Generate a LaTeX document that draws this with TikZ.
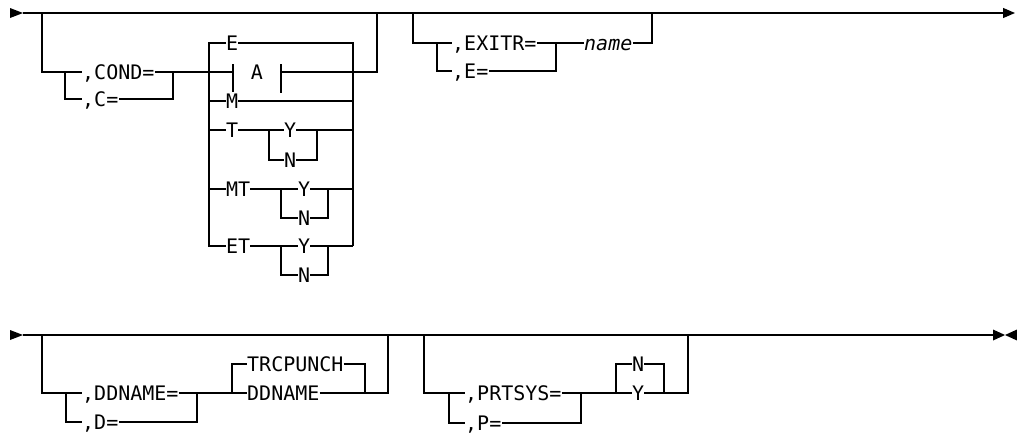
\documentclass[tikz,border=0pt]{standalone}
\usepackage{fontspec}
\setmonofont{DejaVu Sans Mono}
\usepackage{tikz}
\usetikzlibrary{arrows.meta}
\newcommand{\rrfont}{\ttfamily\fontsize{20}{24}\selectfont}

\begin{document}
\begin{tikzpicture}[
    x=1pt,y=-1pt,
    kw/.style={font=\rrfont,anchor=west,inner sep=0pt,text height=14.5pt,text depth=0pt},
    var/.style={kw,font=\rrfont\itshape},
    rail/.style={line width=1.2pt},
    endtip/.style={-{Triangle[length=12pt,width=10pt]}},
  ]
  \useasboundingbox (0,0) rectangle (1017,434);
  % ---------------- first line ----------------
  \coordinate (in1) at (23,13);
  \coordinate (out1) at (1015,13);
  \fill (10,8) -- (in1) -- (10,18) -- cycle;
  \draw[rail,endtip] (in1) -- (out1);
  % optional COND group
  \coordinate (o1L) at (42,13);
  \coordinate (o1R) at (377,13);
  \coordinate (o1Rb) at (377,72);
  \coordinate (f1) at (65,72);
  \coordinate (j1) at (173,72);
  \node[kw] (cond) at (82,72) {,COND=};
  \node[kw] (cshort) at (82,99) {,C=};
  \draw[rail] (o1L) |- (cond.west);
  \draw[rail] (f1) |- (cshort.west);
  \draw[rail] (cond.east) -- (j1) |- (cshort.east);
  % big choice of values
  \coordinate (cLt) at (209,43);
  \coordinate (cRt) at (353,43);
  \node[kw] (nE) at (226,43) {E};
  \node (nA) at (257,72) [font=\rrfont,inner sep=0pt,text height=14.5pt,text depth=0pt] {A};
  \coordinate (barL) at (233,72);
  \coordinate (barR) at (281,72);
  \node[kw] (nM) at (226,101) {M};
  \node[kw] (nT) at (226,130) {T};
  \node[kw] (nMT) at (226,189) {MT};
  \node[kw] (nET) at (226,246) {ET};
  \draw[rail] (nE.west) -- (cLt) -- (cLt |- nET) -- (nET.west);
  \draw[rail] (nE.east) -- (cRt) -- (cRt |- nET);
  % fragment A
  \draw[rail] (j1) -- (barL);
  \draw[rail] ([yshift=8pt]barL) -- ([yshift=-20pt]barL);
  \draw[rail] ([yshift=8pt]barR) -- ([yshift=-21pt]barR);
  \draw[rail] (barR) -- (o1Rb) -- (o1R);
  % M
  \draw[rail] (cLt |- nM) -- (nM.west);
  \draw[rail] (nM.east) -- (cRt |- nM);
  % T Y/N
  \coordinate (tL) at (269,130);
  \coordinate (tR) at (317,130);
  \node[kw] (nTY) at (284,130) {Y};
  \node[kw] (nTN) at (284,160) {N};
  \draw[rail] (cLt |- nT) -- (nT.west);
  \draw[rail] (nT.east) -- (nTY.west);
  \draw[rail] (tL) |- (nTN.west);
  \draw[rail] (nTY.east) -- (cRt |- nT);
  \draw[rail] (nTN.east) -| (tR);
  % MT Y/N
  \coordinate (mtL) at (281,189);
  \coordinate (mtR) at (328,189);
  \node[kw] (nMTY) at (298,189) {Y};
  \node[kw] (nMTN) at (298,218) {N};
  \draw[rail] (cLt |- nMT) -- (nMT.west);
  \draw[rail] (nMT.east) -- (nMTY.west);
  \draw[rail] (mtL) |- (nMTN.west);
  \draw[rail] (nMTY.east) -- (cRt |- nMT);
  \draw[rail] (nMTN.east) -| (mtR);
  % ET Y/N
  \coordinate (etL) at (281,246);
  \coordinate (etR) at (328,246);
  \node[kw] (nETY) at (298,246) {Y};
  \node[kw] (nETN) at (298,275) {N};
  \draw[rail] (nET.east) -- (nETY.west);
  \draw[rail] (etL) |- (nETN.west);
  \draw[rail] (nETY.east) -- (cRt |- nET);
  \draw[rail] (nETN.east) -| (etR);
  % optional EXITR group
  \coordinate (o2L) at (413,13);
  \coordinate (o2R) at (652,13);
  \coordinate (f2) at (437,43);
  \coordinate (j2) at (556,43);
  \node[kw] (exitr) at (452,43) {,EXITR=};
  \node[kw] (eshort) at (452,71) {,E=};
  \node[var] (name) at (584,43) {name};
  \draw[rail] (o2L) |- (exitr.west);
  \draw[rail] (f2) |- (eshort.west);
  \draw[rail] (exitr.east) -- (j2) |- (eshort.east);
  \draw[rail] (j2) -- (name.west);
  \draw[rail] (name.east) -| (o2R);
  % ---------------- second line ----------------
  \coordinate (in2) at (23,335);
  \coordinate (out2) at (993,335);
  \fill (10,330) -- (in2) -- (10,340) -- cycle;
  \draw[rail] (in2) -- (out2);
  \fill (out2) -- (993,329.5) -- (1005,335) -- (993,340.5) -- cycle;
  \fill (1017,329.5) -- (1005,335) -- (1017,340.5) -- cycle;
  % optional DDNAME group
  \coordinate (o3L) at (42,335);
  \coordinate (o3R) at (388,335);
  \coordinate (o3Rb) at (388,393);
  \coordinate (f3) at (66,393);
  \coordinate (j3) at (197,393);
  \node[kw] (ddn) at (82,393) {,DDNAME=};
  \node[kw] (dshort) at (82,422) {,D=};
  \draw[rail] (o3L) |- (ddn.west);
  \draw[rail] (f3) |- (dshort.west);
  \draw[rail] (ddn.east) -- (j3) |- (dshort.east);
  \coordinate (chL) at (232,393);
  \coordinate (chR) at (365,393);
  \node[kw] (nTRC) at (247,364) {TRCPUNCH};
  \node[kw] (nDDN) at (247,393) {DDNAME};
  \draw[rail] (j3) -- (nDDN.west);
  \draw[rail] (chL) |- (nTRC.west);
  \draw[rail] (nTRC.east) -| (chR);
  \draw[rail] (nDDN.east) -- (o3Rb) -- (o3R);
  % optional PRTSYS group
  \coordinate (o4L) at (424,335);
  \coordinate (o4R) at (688,335);
  \coordinate (o4Rb) at (688,393);
  \coordinate (f4) at (449,393);
  \coordinate (j4) at (581,393);
  \node[kw] (prt) at (465,393) {,PRTSYS=};
  \node[kw] (pshort) at (465,423) {,P=};
  \draw[rail] (o4L) |- (prt.west);
  \draw[rail] (f4) |- (pshort.west);
  \draw[rail] (prt.east) -- (j4) |- (pshort.east);
  \coordinate (ynL) at (616,393);
  \coordinate (ynR) at (664,393);
  \node[kw] (nN) at (632,364) {N};
  \node[kw] (nY) at (632,393) {Y};
  \draw[rail] (j4) -- (nY.west);
  \draw[rail] (ynL) |- (nN.west);
  \draw[rail] (nN.east) -| (ynR);
  \draw[rail] (nY.east) -- (o4Rb) -- (o4R);
\end{tikzpicture}
\end{document}
